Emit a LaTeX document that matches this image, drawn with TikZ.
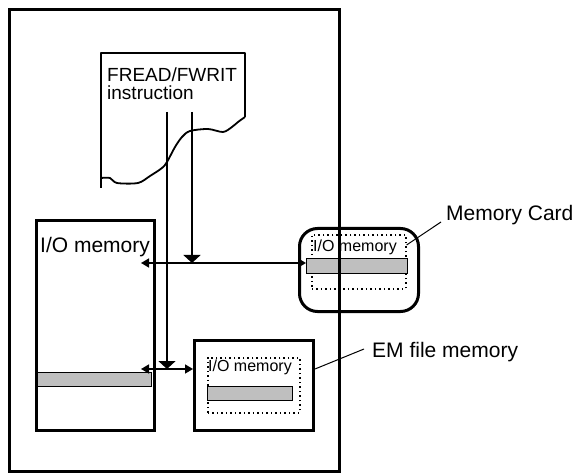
\documentclass[tikz,border=0pt]{standalone}
\usepackage{fontspec}
\setmainfont{Liberation Sans}
\usetikzlibrary{arrows.meta}
\begin{document}
\begin{tikzpicture}[x=1pt,y=-1pt,
  thickbox/.style={draw, line width=3pt, inner sep=0pt, anchor=north west},
  dotbox/.style={draw, line width=1.6pt, dash pattern=on 1.5pt off 3pt, inner sep=0pt, anchor=north west},
  shadebar/.style={draw, line width=0.8pt, fill=black!25, inner sep=0pt, anchor=north west},
  bigtxt/.style={font=\fontsize{21}{24}\selectfont, inner sep=0pt, anchor=base west},
  midtxt/.style={font=\fontsize{19}{22}\selectfont, inner sep=0pt, anchor=base west},
  smalltxt/.style={font=\fontsize{16}{19}\selectfont, inner sep=0pt, anchor=base west},
  conn/.style={line width=1.7pt},
  downtip/.style={-{Triangle[width=17pt,length=8pt]}},
  sidetips/.style={{Triangle[width=9pt,length=8pt]}-{Triangle[width=9pt,length=8pt]}},
  leader/.style={line width=1pt}
]
\useasboundingbox (0,0) rectangle (584,473);

% FREAD/FWRIT instruction sheet
\draw[line width=1.8pt, line join=round] (101,188) -- (101,53) -- (245,53) -- (245,117);
\draw[line width=1.8pt, line join=round] plot[smooth, tension=0.5] coordinates
  {(101,178) (110,178) (117,183) (138,183) (150,176) (162,168) (167,162) (175,147) (182,137) (190,131) (208,129) (223,132) (232,127) (238,122) (245,117)};
\node[midtxt] (instr1) at (107,82) {FREAD/FWRIT};
\node[midtxt] (instr2) at (107,100) {instruction};

% left I/O memory box
\node[thickbox, minimum width=118pt, minimum height=210pt] (iomem) at (35,219) {};
\node[bigtxt] (iomemlbl) at (40,253) {I/O memory};
\node[shadebar, minimum width=114pt, minimum height=14pt] (leftbar) at (37,372) {};

% Memory Card
\node[draw, line width=3pt, rounded corners=18pt, inner sep=0pt, anchor=north west,
      minimum width=119pt, minimum height=83pt] (mcard) at (298,227) {};
\node[dotbox, minimum width=94pt, minimum height=54pt] (mcdot) at (311,234) {};
\node[smalltxt] (mclbl) at (313,252) {I/O memory};
\node[shadebar, minimum width=101pt, minimum height=15pt] (mcbar) at (306,258) {};

% EM file memory
\node[thickbox, minimum width=119pt, minimum height=90pt] (embox) at (193,339) {};
\node[dotbox, minimum width=92pt, minimum height=55pt] (emdot) at (207,357) {};
\node[smalltxt] (emlbl) at (208,371) {I/O memory};
\node[shadebar, minimum width=85pt, minimum height=14pt] (embar) at (207,386) {};

% connectors
\coordinate (v1top) at (167,112);
\coordinate (v2top) at (192,112);
\coordinate (h1) at (192,263);
\coordinate (h1l) at (141,263);
\coordinate (h2) at (167,369);
\coordinate (h2l) at (141,369);
\draw[conn, downtip] (v2top) -- (h1);
\draw[conn, sidetips] (h1l) -- (mcbar.west |- h1l);
\draw[conn, downtip] (v1top) -- (h2);
\draw[conn, sidetips] (h2l) -- (embox.west |- h2l);

% labels
\node[bigtxt] (mclabel) at (446,221) {Memory Card};
\node[bigtxt] (emlabel) at (372,357) {EM file memory};
\coordinate (mcl) at (441,222);
\coordinate (eml) at (364,349);
\draw[leader] (mcdot.north east) ++(0,11) coordinate (mcd) -- (mcl);
\draw[leader] (embox.east |- 0,369) -- (eml);

% outer frame (drawn last, over the memory card)
\node[thickbox, minimum width=330pt, minimum height=462pt] (frame) at (8,8) {};
\end{tikzpicture}
\end{document}
